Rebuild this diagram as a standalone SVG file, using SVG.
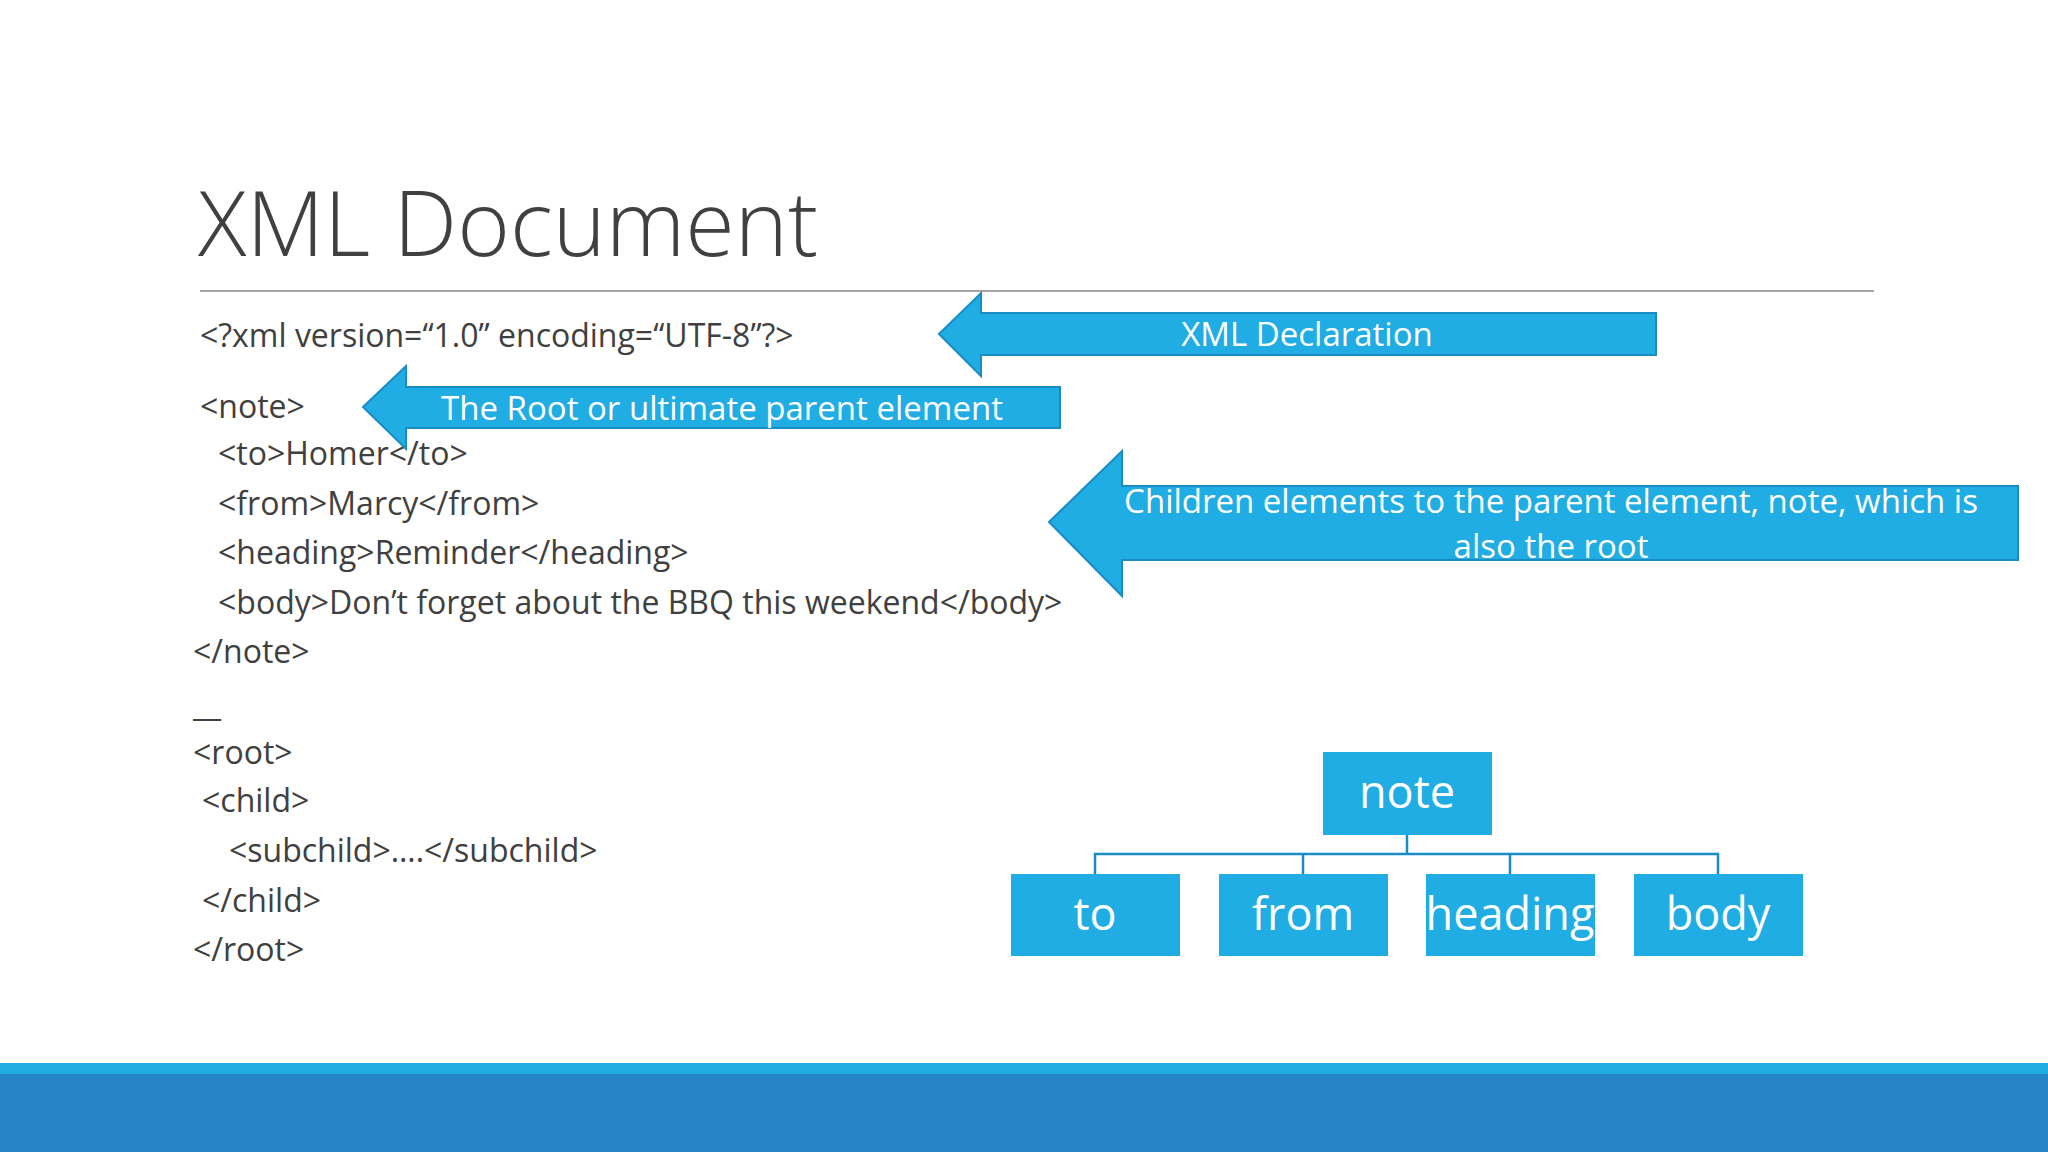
<svg xmlns="http://www.w3.org/2000/svg" width="2048" height="1152" viewBox="0 0 2048 1152">
<style>
.code{font-family:"Open Sans","Liberation Sans",sans-serif;font-size:32px;fill:#404040}
.arr{fill:#1fade3;stroke:#1a8cc4;stroke-width:2}
.at{font-family:"Open Sans","Liberation Sans",sans-serif;font-size:33px;fill:#fff;text-anchor:middle}
.box{fill:#1fade3}
.bt{font-family:"Open Sans","Liberation Sans",sans-serif;font-size:45px;fill:#fff;text-anchor:middle}
.ln{stroke:#1a8cc4;stroke-width:2.5;fill:none}
</style>
<rect width="2048" height="1152" fill="#fff"/>
<text x="198" y="256" font-family="'Open Sans','Liberation Sans',sans-serif" font-weight="300" font-size="90" fill="#404040">XML Document</text>
<line x1="200" y1="291" x2="1874" y2="291" stroke="#a6a6a6" stroke-width="2"/>
<g id="code">
<text class="code" x="200" y="347" font-size="36">&lt;?xml version=“1.0” encoding=“UTF-8”?&gt;</text>
<text class="code" x="200" y="418" font-size="35">&lt;note&gt;</text>
<text class="code" x="218" y="465">&lt;to&gt;Homer&lt;/to&gt;</text>
<text class="code" x="218" y="515">&lt;from&gt;Marcy&lt;/from&gt;</text>
<text class="code" x="218" y="564">&lt;heading&gt;Reminder&lt;/heading&gt;</text>
<text class="code" x="218" y="614">&lt;body&gt;Don’t forget about the BBQ this weekend&lt;/body&gt;</text>
<text class="code" x="193" y="663">&lt;/note&gt;</text>
<text class="code" x="193" y="716">__</text>
<text class="code" x="193" y="764">&lt;root&gt;</text>
<text class="code" x="202" y="812">&lt;child&gt;</text>
<text class="code" x="229" y="862">&lt;subchild&gt;….&lt;/subchild&gt;</text>
<text class="code" x="202" y="912">&lt;/child&gt;</text>
<text class="code" x="193" y="961">&lt;/root&gt;</text>
</g>
<g id="arrow-decl">
<polygon class="arr" points="939,334 981,293 981,313 1656,313 1656,355 981,355 981,376"/>
<text class="at" x="1307" y="346">XML Declaration</text>
</g>
<g id="arrow-root">
<polygon class="arr" points="363,407 406,366 406,387 1060,387 1060,428 406,428 406,449"/>
<text class="at" x="722" y="420">The Root or ultimate parent element</text>
</g>
<g id="arrow-children">
<polygon class="arr" points="1049,522 1122,451 1122,486 2018,486 2018,560 1122,560 1122,596"/>
<text class="at" x="1551" y="513">Children elements to the parent element, note, which is</text>
<text class="at" x="1551" y="558">also the root</text>
</g>
<g id="connectors">
<path class="ln" d="M1407,835 V854 M1095,874 V854 H1718 V874 M1303,854 V874 M1510,854 V874"/>
</g>
<g id="note"><rect class="box" x="1323" y="752" width="169" height="83"/><text class="bt" x="1407" y="808">note</text></g>
<g id="to"><rect class="box" x="1011" y="874" width="169" height="82"/><text class="bt" x="1095" y="930">to</text></g>
<g id="from"><rect class="box" x="1219" y="874" width="169" height="82"/><text class="bt" x="1303" y="930">from</text></g>
<g id="heading"><rect class="box" x="1426" y="874" width="169" height="82"/><text class="bt" x="1510" y="930">heading</text></g>
<g id="body"><rect class="box" x="1634" y="874" width="169" height="82"/><text class="bt" x="1718" y="930">body</text></g>
<rect x="0" y="1063" width="2048" height="11" fill="#1fade3"/>
<rect x="0" y="1074" width="2048" height="78" fill="#2683c6"/>
</svg>
